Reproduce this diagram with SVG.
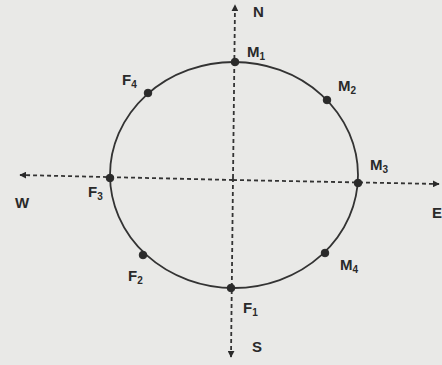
<svg xmlns="http://www.w3.org/2000/svg" width="442" height="365" viewBox="0 0 442 365">
<defs>
<marker id="arr" viewBox="0 0 10 10" refX="9" refY="5" markerWidth="7" markerHeight="7" markerUnits="userSpaceOnUse" orient="auto">
<path d="M0,0 L10,5 L0,10 z" fill="#2a2a2a"/>
</marker>
<style>
.ax{stroke:#333;stroke-width:1.8;stroke-dasharray:4 3;fill:none}
.orb{stroke:#333;stroke-width:1.8;fill:none}
.pt{fill:#2a2a2a;stroke:#2a2a2a;stroke-width:1}
.lb{font-family:"Liberation Sans",Arial,sans-serif;font-weight:bold;font-size:15px;fill:#2a2a2a}
.sb{font-size:10px}
</style>
</defs>
<rect width="442" height="365" fill="#e9e9e7"/>
<g id="connectors">
<line class="ax" x1="233" y1="178" x2="235" y2="5" marker-end="url(#arr)"/>
<line class="ax" x1="233" y1="178" x2="231" y2="357" marker-end="url(#arr)"/>
<line class="ax" x1="233" y1="180" x2="20" y2="175" marker-end="url(#arr)"/>
<line class="ax" x1="233" y1="180" x2="439" y2="184" marker-end="url(#arr)"/>
</g>
<g id="orbit">
<ellipse class="orb" cx="234" cy="175" rx="124" ry="113"/>
</g>
<g id="N"><text class="lb" x="253" y="17">N</text></g>
<g id="S"><text class="lb" x="252" y="352">S</text></g>
<g id="W"><text class="lb" x="15" y="208">W</text></g>
<g id="E"><text class="lb" x="432" y="218">E</text></g>
<g id="M1"><circle class="pt" cx="235" cy="62" r="3.8"/><text class="lb" x="247" y="57">M<tspan class="sb" dy="3">1</tspan></text></g>
<g id="M2"><circle class="pt" cx="327" cy="100" r="3.8"/><text class="lb" x="338" y="91">M<tspan class="sb" dy="3">2</tspan></text></g>
<g id="M3"><circle class="pt" cx="358" cy="183" r="3.8"/><text class="lb" x="370" y="170">M<tspan class="sb" dy="3">3</tspan></text></g>
<g id="M4"><circle class="pt" cx="325" cy="253" r="3.8"/><text class="lb" x="340" y="270">M<tspan class="sb" dy="3">4</tspan></text></g>
<g id="F1"><circle class="pt" cx="231" cy="288" r="3.8"/><text class="lb" x="243" y="313">F<tspan class="sb" dy="3">1</tspan></text></g>
<g id="F2"><circle class="pt" cx="143" cy="255" r="3.8"/><text class="lb" x="128" y="281">F<tspan class="sb" dy="3">2</tspan></text></g>
<g id="F3"><circle class="pt" cx="110" cy="178" r="3.8"/><text class="lb" x="88" y="197">F<tspan class="sb" dy="3">3</tspan></text></g>
<g id="F4"><circle class="pt" cx="148" cy="93" r="3.8"/><text class="lb" x="122" y="85">F<tspan class="sb" dy="3">4</tspan></text></g>
</svg>
